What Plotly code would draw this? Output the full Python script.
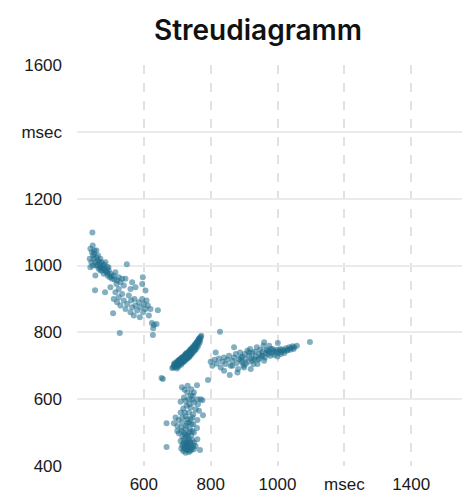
import plotly.graph_objects as go

# point clouds (msec vs msec)
upper_x = [446, 440, 445, 448, 450, 452, 455, 458, 460, 462, 465, 468, 470, 472, 475, 478, 480, 482, 485, 488,
           490, 492, 495, 498, 500, 505, 510, 515, 520, 525, 530, 440, 455, 438, 549, 597, 454, 484, 508, 510,
           515, 520, 525, 530, 535, 540, 545, 550, 555, 560, 562, 565, 570, 572, 575, 580, 585, 588, 590, 595,
           598, 600, 605, 608, 612, 615, 620, 642, 624, 630, 638, 628, 528, 627, 560, 540, 575, 595, 605, 525,
           500, 545, 565, 443, 447, 451, 457, 463, 466, 469, 473, 477, 481, 486, 491, 494, 503, 512, 447, 458,
           470, 535, 518]
upper_y = [1099, 1050, 1040, 1030, 1020, 1045, 1010, 1025, 1000, 1015, 990, 1005, 1020, 995, 985, 1000, 975, 990, 1010, 980,
           995, 970, 985, 965, 975, 960, 970, 980, 955, 965, 950, 995, 970, 1020, 1004, 965, 926, 920, 857, 900,
           920, 890, 905, 880, 915, 895, 870, 885, 910, 860, 895, 875, 850, 900, 880, 865, 890, 845, 875, 900,
           860, 885, 870, 895, 880, 850, 870, 866, 828, 822, 825, 812, 798, 792, 930, 940, 935, 945, 925, 930,
           935, 960, 950, 1010, 1000, 1035, 1000, 1030, 1012, 995, 1010, 992, 1003, 985, 978, 995, 968, 958, 1060, 1045,
           985, 960, 945]

diag_x = [685, 688, 690, 692, 694, 695, 697, 698, 700, 700, 702, 703, 704, 705, 706, 707, 708, 709, 710, 710,
          711, 712, 713, 714, 714, 715, 716, 717, 718, 719, 720, 720, 721, 722, 723, 724, 724, 725, 726, 727,
          728, 728, 729, 730, 731, 732, 732, 733, 734, 735, 736, 736, 737, 738, 739, 740, 740, 741, 742, 743,
          744, 745, 746, 747, 748, 749, 750, 751, 752, 754, 755, 756, 758, 759, 760, 762, 763, 765, 766, 768,
          770, 757, 745, 735, 725, 715, 705, 718, 730, 742, 653, 657, 690, 693, 696, 699, 701, 704, 706, 709,
          711, 713, 716, 718, 721, 723, 726, 728, 731, 733, 736, 738, 741, 743, 746, 748, 751, 753, 756, 758,
          761, 764, 767, 769, 772, 699, 712, 727, 739, 753, 764, 703]
diag_y = [693, 695, 700, 697, 703, 699, 706, 701, 704, 710, 707, 712, 705, 709, 714, 710, 716, 712, 708, 718,
          714, 720, 716, 711, 722, 718, 714, 724, 720, 716, 726, 722, 718, 728, 724, 720, 730, 726, 732, 728,
          724, 734, 730, 736, 732, 728, 738, 734, 740, 736, 732, 742, 738, 744, 740, 736, 746, 742, 748, 744,
          750, 746, 752, 748, 754, 750, 757, 753, 760, 756, 762, 766, 762, 768, 772, 770, 776, 774, 780, 784,
          786, 758, 740, 728, 735, 725, 717, 712, 726, 738, 663, 660, 705, 708, 696, 713, 700, 716, 703, 720,
          707, 724, 711, 728, 713, 732, 718, 738, 722, 741, 726, 748, 732, 752, 738, 758, 744, 764, 750, 770,
          756, 780, 770, 778, 790, 692, 703, 721, 733, 747, 764, 697]

vert_x = [714, 759, 792, 722, 730, 740, 735, 745, 720, 750, 762, 770, 775, 728, 740, 755, 718, 735, 748, 710,
          725, 745, 760, 777, 704, 715, 730, 742, 668, 700, 712, 725, 738, 759, 690, 720, 705, 730, 742, 750,
          715, 725, 735, 745, 710, 720, 730, 740, 750, 715, 725, 735, 745, 720, 730, 740, 750, 768, 668, 725,
          735, 712, 728, 738, 755, 720, 732, 745, 715, 730, 750, 742, 725, 710, 765, 695, 700, 760, 735, 748,
          718, 722, 728, 733, 738, 742, 727, 732, 718, 748, 723, 737, 713, 726, 740, 722, 736, 746, 731, 760]
vert_y = [636, 642, 657, 628, 620, 612, 600, 598, 605, 590, 585, 600, 597, 580, 575, 570, 572, 560, 555, 560,
          548, 545, 538, 552, 538, 530, 528, 525, 528, 520, 515, 512, 510, 514, 528, 500, 498, 495, 492, 500,
          488, 485, 480, 478, 475, 470, 468, 466, 470, 462, 458, 456, 455, 450, 448, 446, 450, 448, 457, 440,
          442, 452, 463, 472, 460, 480, 490, 505, 545, 540, 620, 630, 595, 592, 565, 545, 505, 480, 530, 525,
          445, 455, 452, 448, 460, 450, 470, 476, 465, 462, 495, 502, 505, 520, 540, 560, 585, 610, 640, 600]

horiz_x = [828, 1001, 1097, 800, 805, 812, 818, 825, 830, 835, 840, 845, 850, 855, 857, 860, 865, 870, 875, 878,
           882, 885, 888, 892, 895, 898, 902, 905, 910, 912, 915, 918, 922, 925, 928, 932, 935, 938, 942, 945,
           948, 952, 955, 958, 962, 965, 968, 972, 975, 978, 980, 985, 988, 990, 995, 998, 1002, 1005, 1008, 1012,
           1015, 1020, 1025, 1030, 1035, 1040, 1045, 1050, 1058, 975, 960, 940, 920, 900, 880, 960, 1000, 1020, 815, 840,
           870, 890, 905, 925, 945, 970, 985, 1010, 1028, 1038, 1048, 955, 930, 915, 895, 865]
horiz_y = [802, 768, 771, 712, 700, 718, 706, 722, 695, 712, 725, 705, 718, 730, 672, 700, 715, 725, 735, 708,
           690, 720, 740, 715, 728, 700, 735, 720, 745, 712, 730, 750, 722, 738, 705, 742, 728, 755, 718, 735,
           748, 730, 742, 760, 725, 738, 748, 735, 742, 730, 750, 738, 745, 732, 742, 748, 738, 745, 750, 742,
           748, 745, 752, 748, 755, 752, 758, 755, 760, 760, 770, 705, 690, 695, 680, 715, 728, 738, 740, 685,
           755, 725, 705, 715, 722, 745, 750, 735, 745, 748, 750, 730, 720, 740, 710, 700]

xs = upper_x + diag_x + vert_x + horiz_x
ys = upper_y + diag_y + vert_y + horiz_y

x_ticks = [400, 600, 800, 1000, 1200, 1400]
x_labels = ["", "600", "800", "1000", "msec", "1400"]
y_ticks = [400, 600, 800, 1000, 1200, 1400, 1600]
y_labels = ["400", "600", "800", "1000", "1200", "msec", "1600"]

fig = go.Figure(go.Scatter(
    x=xs, y=ys, mode="markers",
    marker=dict(color="#1f6e8c", size=6, opacity=0.55, line=dict(width=0)),
))

# the page body adds an 8px offset, so the figure is 8px smaller
fig.update_layout(
    width=462, height=487,
    margin=dict(l=69, r=0, t=57, b=29),
    paper_bgcolor="white", plot_bgcolor="white",
    font=dict(family="Liberation Sans, Arial, sans-serif", color="#1a1a1a", size=17),
    showlegend=False,
    title=dict(text="Streudiagramm", x=250 / 462, xanchor="center", y=1 - 22 / 487, yanchor="middle",
               font=dict(family="Inter, sans-serif", size=28, weight=600, color="#111")),
)
fig.update_xaxes(range=[400, 1576], tickvals=x_ticks, ticktext=x_labels,
                 showgrid=True, gridcolor="#e2e2e2", gridwidth=1.5, griddash="dash",
                 zeroline=False, showline=False, ticks="", ticklabelstandoff=6)
fig.update_yaxes(range=[400, 1600], tickvals=y_ticks, ticktext=y_labels,
                 showgrid=True, gridcolor="#ebebeb", gridwidth=2,
                 zeroline=False, showline=False, ticks="", ticklabelstandoff=14)

fig.write_html("out.html")
